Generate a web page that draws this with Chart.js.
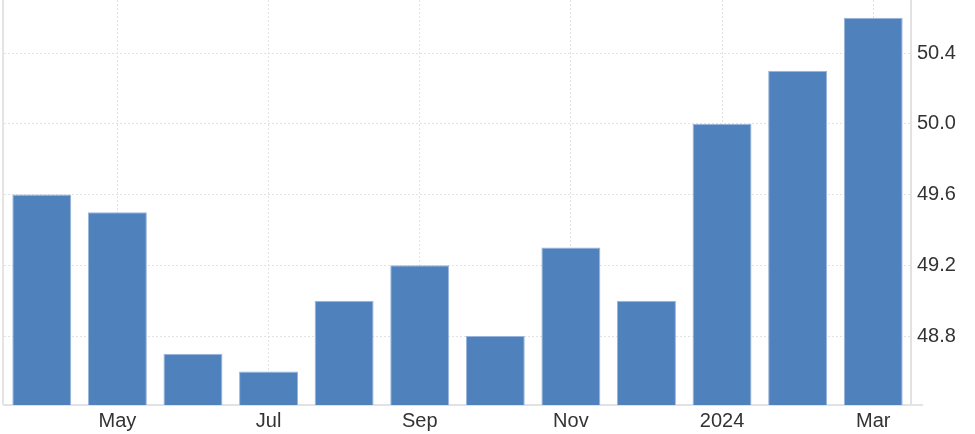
<!DOCTYPE html>
<html>
<head>
<meta charset="utf-8">
<script src="https://cdn.jsdelivr.net/npm/chart.js@4/dist/chart.umd.min.js"></script>
<style>
  html, body { margin: 0; padding: 0; background: #fff; }
  #wrap { width: 975px; height: 434px; }
</style>
</head>
<body>
<div id="wrap"><canvas id="barChart"></canvas></div>
<script>
var months = ['Apr', 'May', 'Jun', 'Jul', 'Aug', 'Sep', 'Oct', 'Nov', 'Dec', '2024', 'Feb', 'Mar'];
var values = [49.6, 49.5, 48.7, 48.6, 49.0, 49.2, 48.8, 49.3, 49.0, 50.0, 50.3, 50.6];
var yTicks = [48.8, 49.2, 49.6, 50.0, 50.4];

// light line along the left edge of the plot, and the little stub of the base line past the right axis
var edges = {
    id: 'edges',
    afterDraw: function (chart) {
        var c = chart.ctx, a = chart.chartArea;
        c.save();
        c.strokeStyle = '#e4e4e4';
        c.lineWidth = 2;
        c.beginPath();
        c.moveTo(a.left - 1, a.top);
        c.lineTo(a.left - 1, a.bottom);
        c.moveTo(a.right, a.bottom);
        c.lineTo(a.right + 12, a.bottom);
        c.stroke();
        c.restore();
    }
};

var ctx = document.getElementById('barChart').getContext('2d');
var myChart = new Chart(ctx, {
    type: 'bar',
    data: {
        labels: months,
        datasets: [{
            data: values,
            backgroundColor: '#4f81bd',
            borderColor: '#9ab5db',
            borderWidth: 1,
            barPercentage: 0.78,
            categoryPercentage: 1
        }]
    },
    options: {
        responsive: true,
        maintainAspectRatio: false,
        animation: false,
        layout: { padding: { left: 4, top: 0, right: 0, bottom: 0 } },
        plugins: {
            legend: { display: false },
            tooltip: { enabled: false }
        },
        scales: {
            x: {
                offset: true,
                grid: {
                    offset: false,
                    drawTicks: false,
                    color: '#e2e2e2'
                },
                border: { display: true, color: '#e2e2e2', width: 2, dash: [2, 2] },
                ticks: {
                    autoSkip: false,
                    maxRotation: 0,
                    padding: 4,
                    color: '#333',
                    font: { family: 'Liberation Sans, Arial, sans-serif', size: 20 },
                    callback: function (v, i) {
                        return i % 2 === 1 ? months[i] : null;
                    }
                },
                afterFit: function (s) {
                    s.height = 29;
                    s.paddingLeft = 0;
                    s.paddingRight = 0;
                }
            },
            y: {
                position: 'right',
                min: 48.41,
                max: 50.7,
                afterBuildTicks: function (s) {
                    s.ticks = yTicks.map(function (v) { return { value: v }; });
                },
                grid: {
                    drawTicks: false,
                    color: '#e2e2e2'
                },
                border: { display: true, color: '#e2e2e2', width: 2, dash: [2, 2] },
                ticks: {
                    padding: 6,
                    color: '#333',
                    font: { family: 'Liberation Sans, Arial, sans-serif', size: 20 },
                    callback: function (v) { return v.toFixed(1); }
                },
                afterFit: function (s) {
                    s.width = 64;
                    s.paddingTop = 0;
                    s.paddingBottom = 0;
                }
            }
        }
    },
    plugins: [edges]
});
</script>
</body>
</html>
